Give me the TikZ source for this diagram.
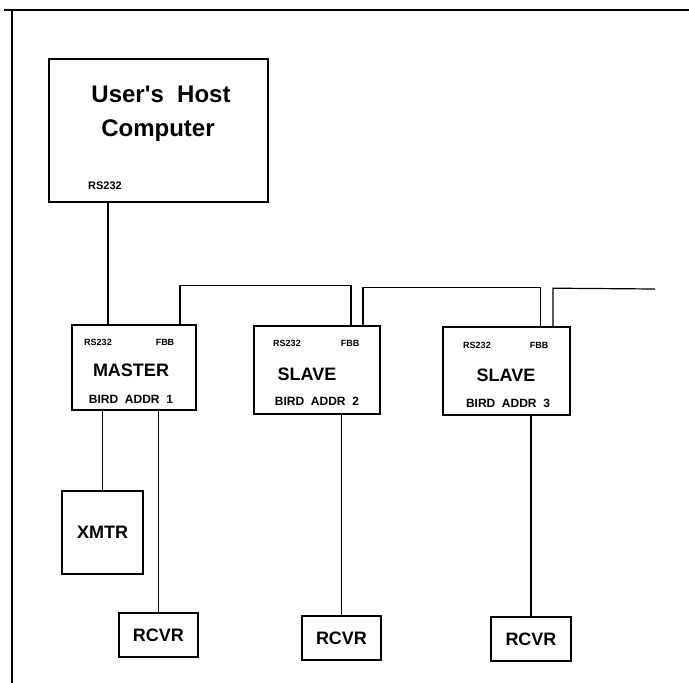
\documentclass[tikz,border=0pt]{standalone}
\usepackage{fontspec}
\setmainfont{Liberation Sans}
\usepackage{tikz}
\usetikzlibrary{positioning,calc}

\tikzset{
  unit/.style={draw,line width=1.6pt,inner sep=0pt},
  wire/.style={line width=1.2pt},
  bigtxt/.style={font=\fontsize{18}{20}\selectfont\bfseries,inner sep=0pt},
  hosttxt/.style={font=\fontsize{24}{27}\selectfont\bfseries,inner sep=0pt},
  porttxt/.style={font=\fontsize{9}{10}\selectfont\bfseries,inner sep=0pt},
  addrtxt/.style={font=\fontsize{12}{13}\selectfont\bfseries,inner sep=0pt}
}

\begin{document}
\begin{tikzpicture}[x=1pt,y=-1pt]
  \useasboundingbox (0,0) rectangle (689,683);
  \draw[line width=1.8pt] (4,10) -- (689,10); % top frame line
  \draw[line width=1.8pt] (12,10) -- (12,683); % left frame line

  % host computer
  \node[unit,minimum width=219,minimum height=143] (host) at (158.5,130.5) {};
  \node[hosttxt] (hostname) at (161,94) {User\textquotesingle s\ \ Host};
  \node[hosttxt] (hostcomp) at (158,131) {Computer};
  \node[font=\fontsize{11}{12}\selectfont\bfseries,inner sep=0pt] (hostrs) at (105,186) {RS232};

  % bird units
  \node[unit,minimum width=124,minimum height=85] (master) at (134,367.5) {};
  \node[porttxt] (mrs) at (98,342) {RS232};
  \node[porttxt] (mfbb) at (165,342) {FBB};
  \node[bigtxt] (mname) at (131,370) {MASTER};
  \node[addrtxt] (maddr) at (131,399) {BIRD\ \ ADDR\ \ 1};

  \node[unit,minimum width=126,minimum height=88] (slave1) at (317,370) {};
  \node[porttxt] (s1rs) at (287,343) {RS232};
  \node[porttxt] (s1fbb) at (350,343) {FBB};
  \node[bigtxt] (s1name) at (307,374) {SLAVE};
  \node[addrtxt] (s1addr) at (317,401) {BIRD\ \ ADDR\ \ 2};

  \node[unit,minimum width=127,minimum height=88] (slave2) at (506.5,371) {};
  \node[porttxt] (s2rs) at (477,345) {RS232};
  \node[porttxt] (s2fbb) at (539,345) {FBB};
  \node[bigtxt] (s2name) at (506,375) {SLAVE};
  \node[addrtxt] (s2addr) at (508,403) {BIRD\ \ ADDR\ \ 3};

  % transmitter and receivers
  \node[unit,minimum width=81,minimum height=83] (xmtr) at (102.5,532.5) {};
  \node[bigtxt] (xmtrtxt) at (xmtr.center) {XMTR};
  \node[unit,minimum width=79,minimum height=44] (rcvr1) at (158.5,635) {};
  \node[bigtxt] (rcvr1txt) at (rcvr1.center) {RCVR};
  \node[unit,minimum width=79,minimum height=44] (rcvr2) at (341.5,638) {};
  \node[bigtxt] (rcvr2txt) at (rcvr2.center) {RCVR};
  \node[unit,minimum width=80,minimum height=44] (rcvr3) at (531,639) {};
  \node[bigtxt] (rcvr3txt) at (rcvr3.center) {RCVR};

  % RS232 link and FBB bus
  \draw[wire] ([xshift=-26]master.north) -- ++(0,-123);
  \coordinate (busend) at (655,289);
  \draw[wire] ([xshift=46]master.north) -- ++(0,-39) -| ([xshift=34]slave1.north);
  \draw[wire] ([xshift=46]slave1.north) -- ++(0,-38) -| ([xshift=34]slave2.north);
  \draw[wire] ([xshift=46.5]slave2.north) -- ++(0,-38) -- (busend);

  % cables down to sensors
  \draw[wire] (xmtr.north) -- (xmtr.north |- master.south);
  \draw[wire] (rcvr1.north) -- (rcvr1.north |- master.south);
  \draw[wire] (rcvr2.north) -- (rcvr2.north |- slave1.south);
  \draw[wire] (rcvr3.north) -- (rcvr3.north |- slave2.south);
\end{tikzpicture}
\end{document}
